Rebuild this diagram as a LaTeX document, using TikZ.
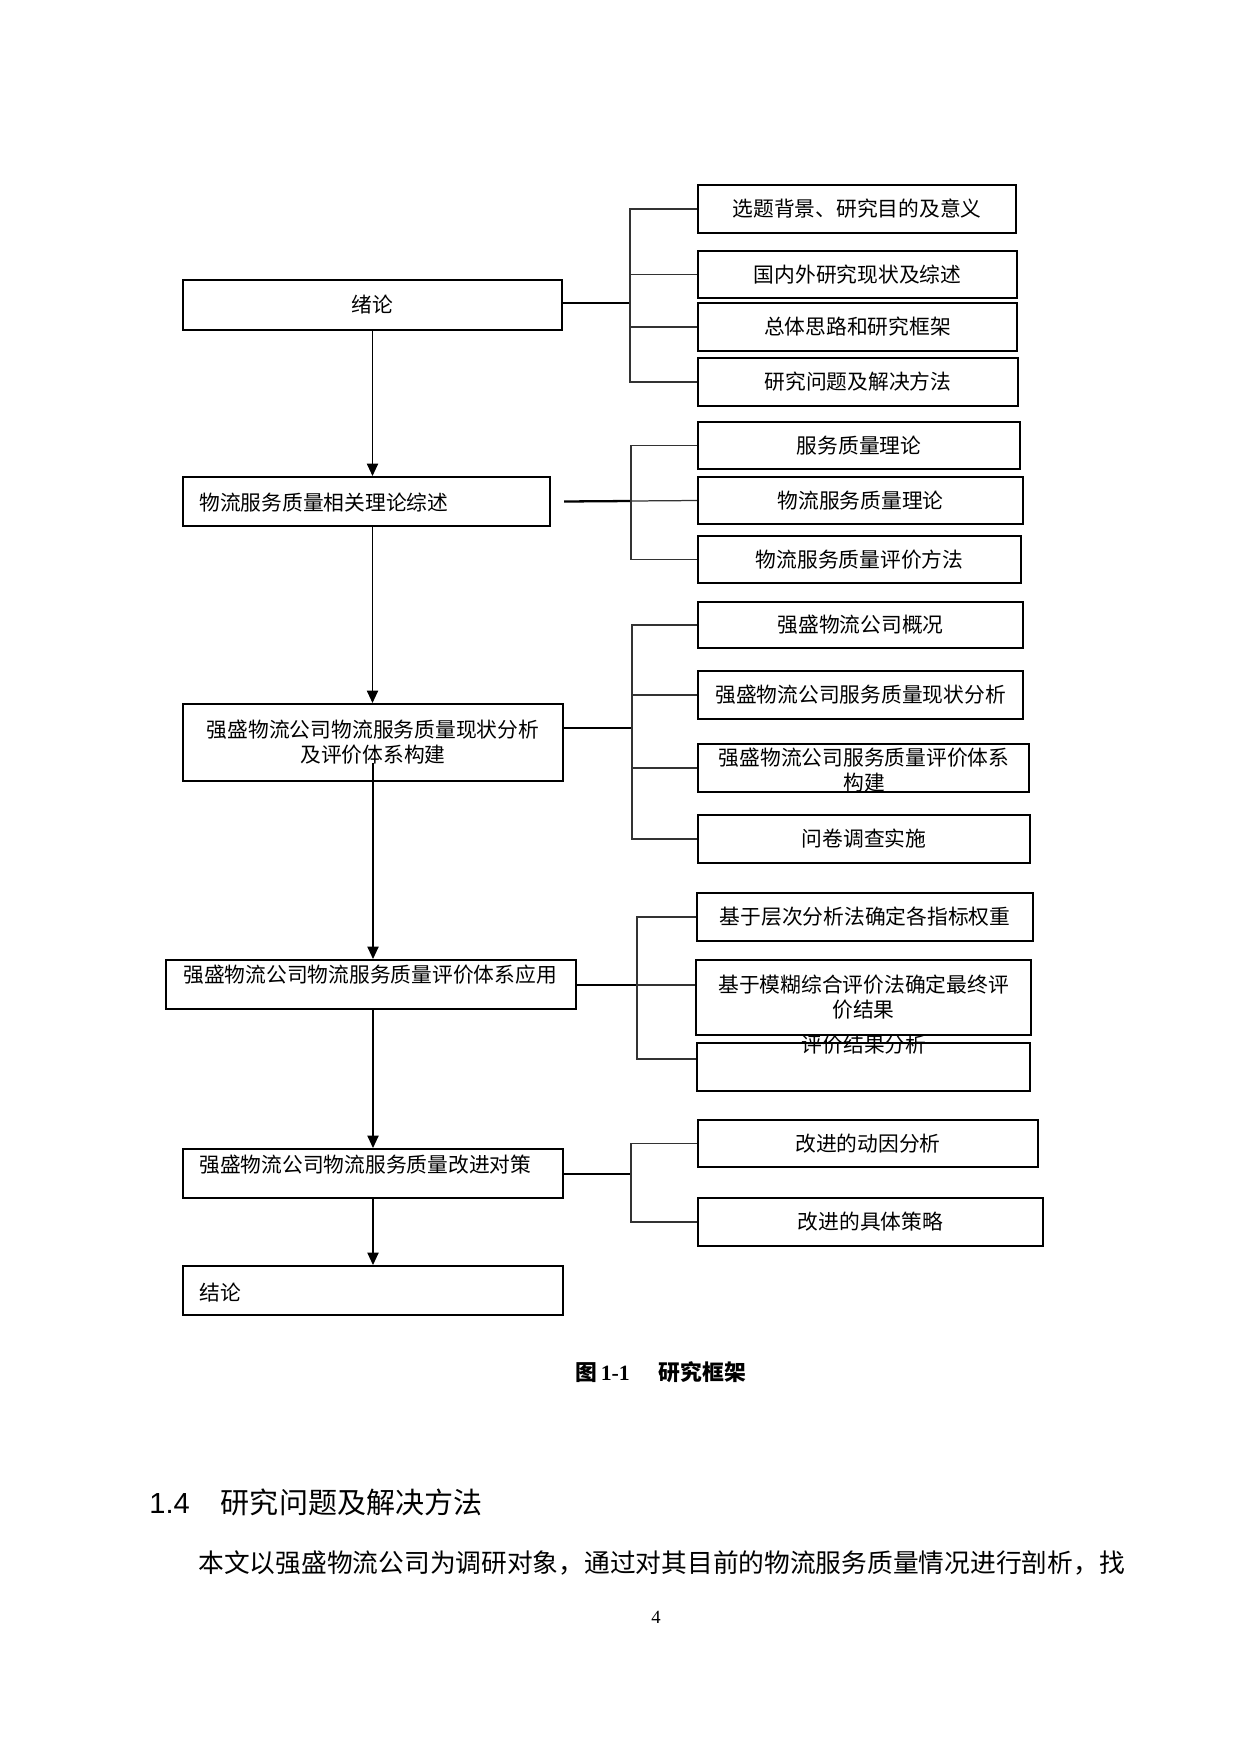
\documentclass[tikz,border=0pt]{standalone}
\usepackage{fontspec}
\setmainfont{Liberation Serif}
\newfontfamily\cjk{Noto Sans CJK SC}
\newfontfamily\hsans{Liberation Sans}
\usetikzlibrary{calc,arrows.meta}
\def\pxu{0.016935cm}
\def\rbox(#1)(#2:#3:#4:#5)#6{\node[box, minimum width={(#4-#2)*\pxu}, minimum height={(#5-#3)*\pxu}] (#1) at ({(#2+#4)/2},{(#3+#5)/2}) {#6};}
\tikzset{
	box/.style={draw=black, line width=1pt, inner sep=0pt, align=center, font=\cjk\fontsize{10pt}{12pt}\selectfont},
	txt/.style={inner sep=0pt, align=center, font=\cjk\fontsize{10pt}{12pt}\selectfont},
	trunk/.style={line width=1.1pt},
	link/.style={line width=0.6pt, color=black!80},
	flow/.style={line width=0.5pt, -{Triangle[length=6pt,width=5.5pt]}},
}

\begin{document}
\begin{tikzpicture}[x=\pxu, y=-\pxu]
			%%%%% START %%%%%
			\useasboundingbox (0, 0) rectangle (1240, 1754);
			
			\rbox(m1)(183:280:562:330){绪论}
			\rbox(m2)(183:477:550:526){}
			\node[txt, anchor=west] (m2t) at (199, 503) {物流服务质量相关理论综述};
			\rbox(m3)(183:704:563:781){强盛物流公司物流服务质量现状分析\\及评价体系构建}
			\rbox(m4)(166:960:576:1009){}
			\node[txt, anchor=west] (m4t) at (183, 975) {强盛物流公司物流服务质量评价体系应用};
			\rbox(m5)(183:1149:563:1198){}
			\node[txt, anchor=west] (m5t) at (199, 1165) {强盛物流公司物流服务质量改进对策};
			\rbox(m6)(183:1266:563:1315){}
			\node[txt, anchor=west] (m6t) at (199, 1293) {结论};
			
			\draw[flow] (m1.south) -- (m1.south |- m2.north);
			\draw[flow] (m1.south |- m2.south) -- (m1.south |- m3.north);
			\draw[flow] ($(m3.center)+(0, 20)$) -- (m3.center |- m4.north);
			\draw[flow] (m3.center |- m4.south) -- (m3.center |- m5.north);
			\draw[flow] (m5.south) -- (m6.north);
			
			% group 1
			\rbox(r11)(698:185:1016:233){选题背景、研究目的及意义}
			\rbox(r12)(698:251:1017:298){国内外研究现状及综述}
			\rbox(r13)(698:303:1017:351){总体思路和研究框架}
			\rbox(r14)(698:358:1018:406){研究问题及解决方法}
			\coordinate (j1) at (630, 303);
			\draw[trunk] (m1.east |- j1) -- (j1);
			\draw[link] (j1) |- (r11.west);
			\draw[link] (j1) |- (r14.west);
			\draw[link] (j1 |- r12.west) -- (r12.west);
			\draw[link] (j1 |- r13.west) -- (r13.west);
			
			% group 2
			\rbox(r21)(698:422:1020:469){服务质量理论}
			\rbox(r22)(698:477:1023:524){物流服务质量理论}
			\rbox(r23)(698:536:1021:583){物流服务质量评价方法}
			\coordinate (j2) at (631, 501);
			\draw[trunk] ($(m2.east)+(13, 0)$) -- (j2);
			\draw[link] (j2) |- (r21.west);
			\draw[link] (j2) |- (r23.west);
			\draw[link] (j2) -- (r22.west);
			
			% group 3
			\rbox(r31)(698:602:1023:648){强盛物流公司概况}
			\rbox(r32)(698:671:1023:719){强盛物流公司服务质量现状分析}
			\rbox(r33)(698:744:1029:792){}
			\node[txt] (r33t) at (864, 770) {强盛物流公司服务质量评价体系\\构建};
			\rbox(r34)(698:815:1030:863){问卷调查实施}
			\coordinate (j3) at (632, 728);
			\draw[trunk] (m3.east |- j3) -- (j3);
			\draw[link] (j3) |- (r31.west);
			\draw[link] (j3) |- (r34.west);
			\draw[link] (j3 |- r32.west) -- (r32.west);
			\draw[link] (j3 |- r33.west) -- (r33.west);
			
			% group 4
			\rbox(r41)(697:893:1033:941){基于层次分析法确定各指标权重}
			\rbox(r42)(696:960:1031:1035){基于模糊综合评价法确定最终评\\价结果}
			\rbox(r43)(697:1043:1030:1091){}
			\node[txt] (r43t) at (864, 1045) {评价结果分析};
			\coordinate (j4) at (637, 985);
			\draw[trunk] (m4.east |- j4) -- (j4);
			\draw[link] (j4) |- (r41.west);
			\draw[link] (j4) |- ($(r43.west)+(0, -8)$);
			\draw[link] (j4) -- (r42.west |- j4);
			
			% group 5
			\rbox(r51)(698:1120:1038:1167){改进的动因分析}
			\rbox(r52)(698:1198:1043:1246){改进的具体策略}
			\coordinate (j5) at (631, 1174);
			\draw[trunk] (m5.east |- j5) -- (j5);
			\draw[link] (j5) |- (r51.west);
			\draw[link] (j5) |- (r52.west);
			
			% caption and page text
			\node[anchor=west, inner sep=0pt, font=\fontsize{10.5pt}{12pt}\selectfont\bfseries] (cap) at (575, 1372) {{\cjk 图}\,1-1\hspace{14pt}{\cjk 研究框架}};
			\node[anchor=west, inner sep=0pt, font=\fontsize{14pt}{16pt}\selectfont] (sec) at (149, 1502) {{\hsans 1.4}\hspace{15pt}{\cjk 研究问题及解决方法}};
			\node[anchor=west, inner sep=0pt, font=\cjk\fontsize{12.4pt}{16pt}\selectfont] (par) at (198, 1563) {本文以强盛物流公司为调研对象，通过对其目前的物流服务质量情况进行剖析，找};
			\node[inner sep=0pt, font=\fontsize{9pt}{11pt}\selectfont] (pg) at (656, 1617) {4};
			
			%%%%% END %%%%%
\end{tikzpicture}
\end{document}
